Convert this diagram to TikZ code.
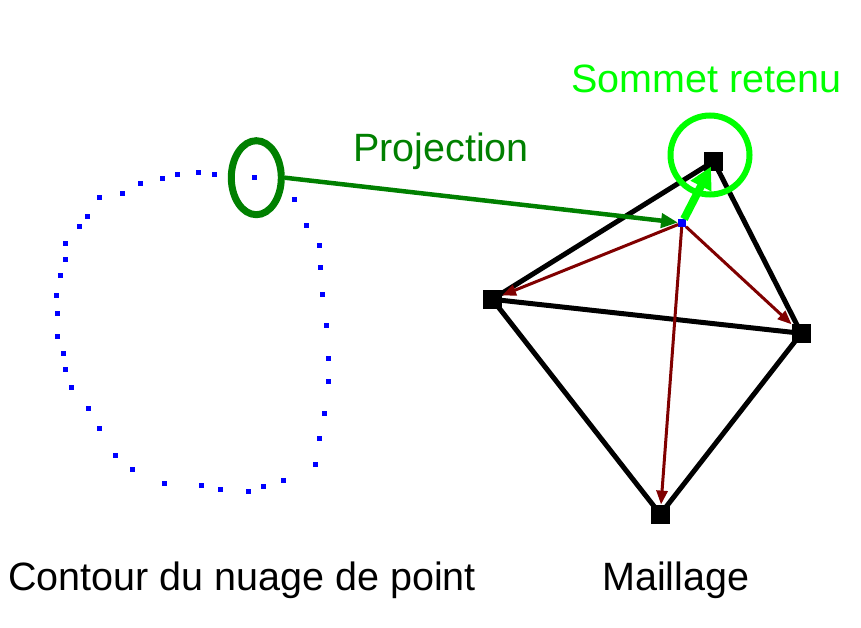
\documentclass[tikz,border=0pt]{standalone}
\usepackage{fontspec}
\setmainfont{Liberation Sans}
\usetikzlibrary{arrows.meta,shapes.geometric}
\definecolor{darkgreen}{RGB}{0,128,0}
\definecolor{brightgreen}{RGB}{0,255,0}
\definecolor{maroon}{RGB}{128,0,0}
\tikzset{
	dot/.style={fill=blue,inner sep=0pt,minimum size=5.5pt},
	vertex/.style={fill=black,inner sep=0pt,minimum size=19pt},
	edge/.style={line width=5pt},
	-red/.style={maroon,line width=3pt,-{Triangle[length=14pt,width=11pt]}},
	-green/.style={darkgreen,line width=4.5pt,-{Triangle[length=17pt,width=14pt]}},
	txt/.style={font=\fontsize{39.5}{47}\selectfont,inner sep=0pt,anchor=base west}
}
\begin{document}
\begin{tikzpicture}[x=1pt,y=-1pt]
            \useasboundingbox (0,0) rectangle (861,628);
            \foreach \x/\y [count=\i] in {254.3/177.3, 214.3/174.3, 198.3/172.3, 177.3/174.3, 162.3/178.3, 140.3/183.3, 122.3/193.3, 99.3/197.3, 87.3/216.3, 79.3/226.3, 65.3/243.3, 65.3/259.3, 60.3/275.3, 56.3/295.3, 57.3/313.3, 57.3/336.3, 63.3/353.3, 65.3/369.3, 71.3/387.3, 88.3/408.3, 99.3/428.3, 115.3/455.3, 132.3/469.3, 164.3/483.3, 201.3/485.3, 220.3/489.3, 248.3/491.3, 263.3/486.3, 283.3/480.3, 315.3/464.3, 319.3/438.3, 324.3/413.3, 328.3/381.3, 328.3/358.3, 326.3/325.3, 322.3/294.3, 320.3/267.3, 319.3/245.7, 306.3/225.3, 294.3/199.3}
                \node[dot] (p\i) at (\x,\y) {};
            \node[vertex] (top) at (713.7,161.3) {};
            \node[vertex] (lft) at (492.3,299.3) {};
            \node[vertex] (rgt) at (801.3,333.3) {};
            \node[vertex] (bot) at (660.3,514.3) {};
            \node[fill=blue,inner sep=0pt,minimum size=7.5pt] (proj) at (682,223) {};
            \draw[edge] (top.center) -- (lft.center) -- (rgt.center) -- (top.center);
            \draw[edge] (lft.center) -- (bot.center) -- (rgt.center);
            \draw[-red] (proj) -- (lft);
            \draw[-red] (proj) -- (rgt);
            \draw[-red] (proj) -- (bot);
            \node[ellipse,draw=darkgreen,line width=7pt,minimum width=50pt,minimum height=74pt,inner sep=0pt] (ell) at (256.3,177.7) {};
            \draw[-green] (ell.east) -- (proj);
            \draw[brightgreen,line width=8pt,-{Triangle[length=22pt,width=22pt]},shorten >=-5pt] (proj) -- (top);
            \node[circle,draw=brightgreen,line width=6pt,minimum size=79pt,inner sep=0pt] (ring) at (710,155) {};
            \node[txt,darkgreen] (projtxt) at (353,162) {Projection};
            \node[txt,brightgreen] (somm) at (571,93) {Sommet retenu};
            \node[txt] (cont) at (8,590) {Contour du nuage de point};
            \node[txt] (mail) at (602,590) {Maillage};
        \end{tikzpicture}
\end{document}
